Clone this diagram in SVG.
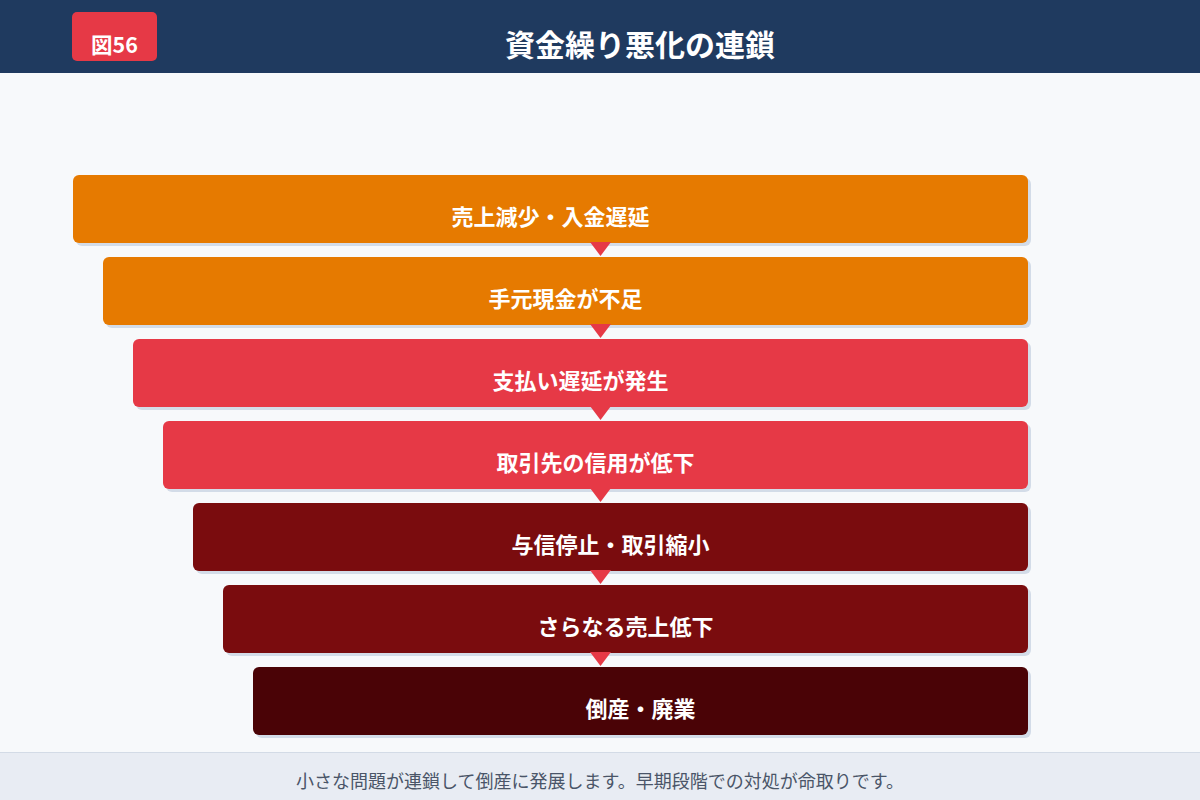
<svg xmlns="http://www.w3.org/2000/svg" width="1200" height="800" viewBox="0 0 1200 800">
<defs>
<style>
.node-shadow{fill:#d3dce8}
.node-text{font-family:"Noto Sans CJK JP","Noto Sans",sans-serif;font-size:22px;font-weight:700;fill:#ffffff;text-anchor:middle}
.arrow{fill:#e63946}
</style>
</defs>
<rect x="0" y="0" width="1200" height="800" fill="#f7f9fb"/>
<g id="header">
<rect x="0" y="0" width="1200" height="73" fill="#1f3a5f"/>
<rect x="72" y="12" width="85" height="49" rx="5" fill="#e63946"/>
<text x="114.5" y="53" font-family="'Noto Sans CJK JP','Noto Sans',sans-serif" font-size="21.5" font-weight="700" fill="#ffffff" text-anchor="middle">図56</text>
<text x="640" y="56" font-family="'Noto Sans CJK JP','Noto Sans',sans-serif" font-size="30" font-weight="700" fill="#ffffff" text-anchor="middle">資金繰り悪化の連鎖</text>
</g>
<g id="node1">
<rect class="node-shadow" x="76" y="178" width="955" height="68" rx="6"/>
<rect x="73" y="175" width="955" height="68" rx="6" fill="#e67a00"/>
<text class="node-text" x="550.5" y="225">売上減少・入金遅延</text>
</g>
<g id="node2">
<rect class="node-shadow" x="106" y="260" width="925" height="68" rx="6"/>
<rect x="103" y="257" width="925" height="68" rx="6" fill="#e67a00"/>
<text class="node-text" x="565.5" y="307">手元現金が不足</text>
</g>
<g id="node3">
<rect class="node-shadow" x="136" y="342" width="895" height="68" rx="6"/>
<rect x="133" y="339" width="895" height="68" rx="6" fill="#e63946"/>
<text class="node-text" x="580.5" y="389">支払い遅延が発生</text>
</g>
<g id="node4">
<rect class="node-shadow" x="166" y="424" width="865" height="68" rx="6"/>
<rect x="163" y="421" width="865" height="68" rx="6" fill="#e63946"/>
<text class="node-text" x="595.5" y="471">取引先の信用が低下</text>
</g>
<g id="node5">
<rect class="node-shadow" x="196" y="506" width="835" height="68" rx="6"/>
<rect x="193" y="503" width="835" height="68" rx="6" fill="#7a0c0e"/>
<text class="node-text" x="610.5" y="553">与信停止・取引縮小</text>
</g>
<g id="node6">
<rect class="node-shadow" x="226" y="588" width="805" height="68" rx="6"/>
<rect x="223" y="585" width="805" height="68" rx="6" fill="#7a0c0e"/>
<text class="node-text" x="625.5" y="635">さらなる売上低下</text>
</g>
<g id="node7">
<rect class="node-shadow" x="256" y="670" width="775" height="68" rx="6"/>
<rect x="253" y="667" width="775" height="68" rx="6" fill="#4a0306"/>
<text class="node-text" x="640.5" y="717">倒産・廃業</text>
</g>
<g id="connectors">
<polygon class="arrow" points="590,242 611,242 600.5,256"/>
<polygon class="arrow" points="590,324 611,324 600.5,338"/>
<polygon class="arrow" points="590,406 611,406 600.5,420"/>
<polygon class="arrow" points="590,488 611,488 600.5,502"/>
<polygon class="arrow" points="590,570 611,570 600.5,584"/>
<polygon class="arrow" points="590,652 611,652 600.5,666"/>
</g>
<g id="footer">
<rect x="0" y="752" width="1200" height="48" fill="#e8ecf3"/>
<line x1="0" y1="752.5" x2="1200" y2="752.5" stroke="#d3dbe6" stroke-width="1"/>
<text x="600" y="788" font-family="'Noto Sans CJK JP','Noto Sans',sans-serif" font-size="18" fill="#4a5568" text-anchor="middle">小さな問題が連鎖して倒産に発展します。早期段階での対処が命取りです。</text>
</g>
</svg>
